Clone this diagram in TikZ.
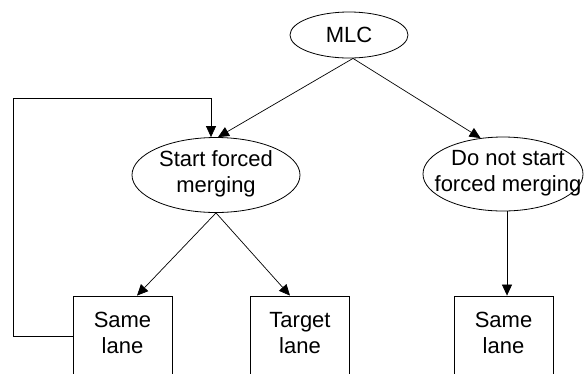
\documentclass[tikz,border=0pt]{standalone}
\usepackage{fontspec}
\setmainfont{Liberation Sans}
\usetikzlibrary{shapes.geometric,arrows.meta,calc}

\tikzset{
  base/.style={draw=black, line width=0.8pt},
  oval/.style={base, ellipse, inner sep=0pt},
  lanebox/.style={base, rectangle, minimum width=99pt, minimum height=80pt,
    inner sep=0pt, align=center},
  arr/.style={line width=0.7pt, -{Triangle[length=11pt,width=10pt]}},
  lbl/.style={align=center, font=\fontsize{22}{26}\selectfont}
}

\begin{document}
\begin{tikzpicture}[x=1pt, y=-1pt, font=\fontsize{22}{26}\selectfont]
  \useasboundingbox (0,0) rectangle (585,373);
  \clip (0,0) rectangle (585,373);

  % decision ovals
  \node[oval, minimum width=118pt, minimum height=46pt] (mlc) at (349,35) {};
  \node[lbl] at (mlc.center) {MLC};
  \node[oval, minimum width=168pt, minimum height=75pt] (start) at (216,175) {};
  \node[lbl] at ($(start.center)+(0,-1)$) {Start forced\\merging};
  \node[oval, minimum width=160pt, minimum height=74pt] (nostart) at (503,174) {};
  \node[lbl] at ($(nostart.center)+(5,-1)$) {Do not start\\forced merging};

  % outcome boxes (lower edges run past the page)
  \node[lanebox] (same1) at (122.5,336) {};
  \node[lbl] at ($(same1.center)+(0,-3)$) {Same\\lane};
  \node[lanebox] (target) at (300,336) {};
  \node[lbl] at ($(target.center)+(0,-3)$) {Target\\lane};
  \node[lanebox] (same2) at (503.5,336) {};
  \node[lbl] at ($(same2.center)+(0,-3)$) {Same\\lane};

  % connectors
  \coordinate (split) at ($(mlc.south)+(4,0)$);
  \draw[arr] (split) -- ($(start.north)+(2,0)$);
  \draw[arr] (split) -- (nostart.122);
  \draw[arr] (start.south) -- ($(same1.north)+(14.5,0)$);
  \draw[arr] (start.south) -- ($(target.north)+(-10,0)$);
  \draw[arr] ($(nostart.south)+(4,0)$) -- ($(same2.north)+(3.5,0)$);

  % feedback loop back to the forced-merging decision
  \coordinate (loop) at (13,98);
  \draw[arr] (same1.west) -| (loop) -| ($(start.north)+(-5,0)$);
\end{tikzpicture}
\end{document}
